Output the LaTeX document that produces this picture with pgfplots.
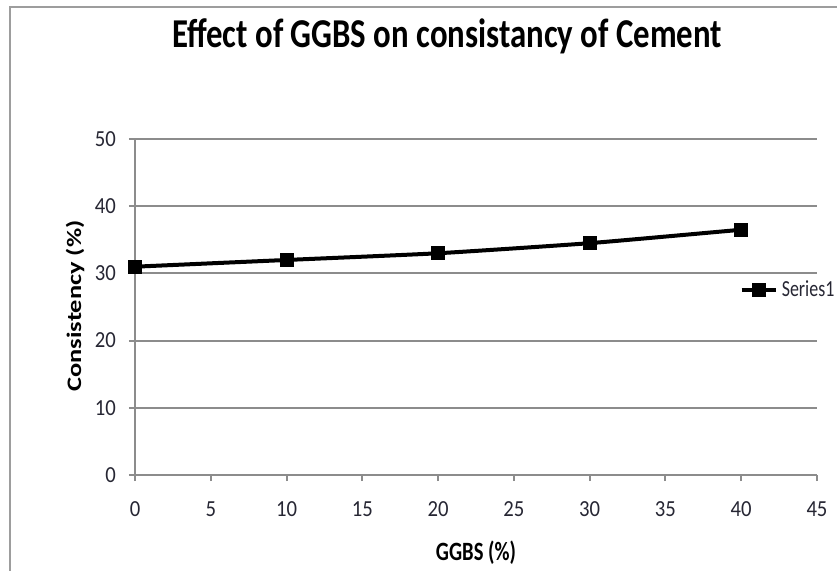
\documentclass[border=0pt]{standalone}
\usepackage{pgfplots}
\pgfplotsset{compat=1.18}
\usepackage{fontspec}
\setmainfont{Carlito}
\newfontfamily\cn[FakeStretch=0.78]{Carlito}
\newfontfamily\ct[FakeStretch=0.9]{Carlito}
\newfontfamily\tf[FakeStretch=0.8]{Carlito}
\definecolor{gridc}{HTML}{8C8C8C}
\definecolor{txt}{HTML}{262633}
\begin{document}
\begin{tikzpicture}
\useasboundingbox (0,0) rectangle (418.5pt,285pt);
\draw[gridc!85, line width=1pt] (4.75pt,-5pt) -- (4.75pt,281.5pt) -- (425pt,281.5pt);
\begin{axis}[
  at={(67.5pt,47.5pt)}, anchor=south west,
  scale only axis, width=341pt, height=168pt,
  xmin=0, xmax=45, ymin=0, ymax=50,
  xtick={0,5,...,45}, ytick={0,10,...,50},
  axis lines=left,
  x axis line style={-}, y axis line style={-},
  ymajorgrids,
  grid style={gridc, line width=1pt},
  axis line style={gridc, line width=1pt},
  tick style={gridc, line width=1pt},
  tick align=outside, major tick length=3pt,
  /pgf/number format/assume math mode=true,
  ticklabel style={font=\ct\fontsize{11.5}{13}\selectfont, text=txt},
  xticklabel style={yshift=-7pt},
  yticklabel style={xshift=-3pt},
  title={Effect of GGBS on consistancy of Cement},
  title style={at={(0.4575,1.236)}, anchor=base, font=\tf\bfseries\fontsize{20.5}{24}\selectfont},
  xlabel={GGBS (\%)},
  xlabel style={at={(0.5,-0.232)}, anchor=center, font=\cn\bfseries\fontsize{13.2}{15}\selectfont},
  ylabel={\scalebox{1}[0.78]{Consistency (\%)}},
  ylabel style={at={(-0.088,0.503)}, anchor=center, font=\bfseries\fontsize{13.2}{15}\selectfont},
  legend style={at={(0.886,0.55)}, anchor=west, draw=none, fill=none, inner sep=0pt,
    font=\cn\fontsize{11.5}{13}\selectfont, text=txt},
  legend cell align=left,
]
\addplot[black, line width=2pt, smooth, tension=0.3, mark=square*, mark size=2.5pt, mark options={solid}]
  coordinates {(0,31) (10,32) (20,33) (30,34.5) (40,36.5)};
\addlegendentry{Series1}
\end{axis}
\end{tikzpicture}
\end{document}
